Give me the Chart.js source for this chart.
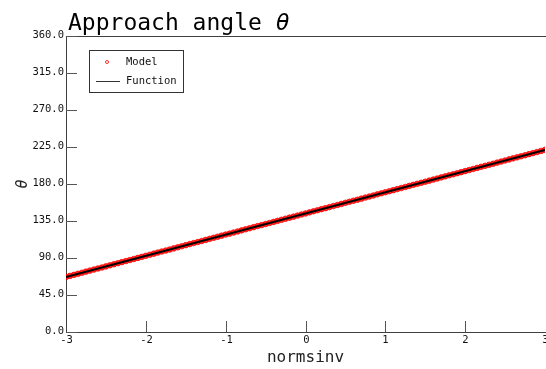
<!DOCTYPE html>
<html>
<head>
<meta charset="utf-8">
<script src="https://cdn.jsdelivr.net/npm/chart.js@4/dist/chart.umd.min.js"></script>
<style>
  html, body { margin: 0; padding: 0; background: #fff; }
  #wrap { width: 546px; height: 369px; }
</style>
</head>
<body>
<div id="wrap"><canvas id="chart" width="546" height="369"></canvas></div>
<script>
// data
const modelX = [
  -3.00, -2.95, -2.90, -2.85, -2.80, -2.75, -2.70, -2.65, -2.60, -2.55,
  -2.50, -2.45, -2.40, -2.35, -2.30, -2.25, -2.20, -2.15, -2.10, -2.05,
  -2.00, -1.95, -1.90, -1.85, -1.80, -1.75, -1.70, -1.65, -1.60, -1.55,
  -1.50, -1.45, -1.40, -1.35, -1.30, -1.25, -1.20, -1.15, -1.10, -1.05,
  -1.00, -0.95, -0.90, -0.85, -0.80, -0.75, -0.70, -0.65, -0.60, -0.55,
  -0.50, -0.45, -0.40, -0.35, -0.30, -0.25, -0.20, -0.15, -0.10, -0.05,
   0.00,  0.05,  0.10,  0.15,  0.20,  0.25,  0.30,  0.35,  0.40,  0.45,
   0.50,  0.55,  0.60,  0.65,  0.70,  0.75,  0.80,  0.85,  0.90,  0.95,
   1.00,  1.05,  1.10,  1.15,  1.20,  1.25,  1.30,  1.35,  1.40,  1.45,
   1.50,  1.55,  1.60,  1.65,  1.70,  1.75,  1.80,  1.85,  1.90,  1.95,
   2.00,  2.05,  2.10,  2.15,  2.20,  2.25,  2.30,  2.35,  2.40,  2.45,
   2.50,  2.55,  2.60,  2.65,  2.70,  2.75,  2.80,  2.85,  2.90,  2.95,
   3.00
];
const modelY = [
   67.0,  68.2,  69.5,  70.8,  72.1,  73.4,  74.7,  76.0,  77.3,  78.5,
   79.8,  81.1,  82.4,  83.7,  85.0,  86.3,  87.5,  88.8,  90.1,  91.4,
   92.7,  94.0,  95.3,  96.6,  97.9,  99.1, 100.4, 101.7, 103.0, 104.3,
  105.6, 106.9, 108.2, 109.4, 110.7, 112.0, 113.3, 114.6, 115.9, 117.2,
  118.5, 119.7, 121.0, 122.3, 123.6, 124.9, 126.2, 127.5, 128.8, 130.0,
  131.3, 132.6, 133.9, 135.2, 136.5, 137.8, 139.1, 140.3, 141.6, 142.9,
  144.2, 145.5, 146.8, 148.1, 149.4, 150.6, 151.9, 153.2, 154.5, 155.8,
  157.1, 158.4, 159.7, 160.9, 162.2, 163.5, 164.8, 166.1, 167.4, 168.7,
  170.0, 171.2, 172.5, 173.8, 175.1, 176.4, 177.7, 179.0, 180.3, 181.5,
  182.8, 184.1, 185.4, 186.7, 188.0, 189.3, 190.6, 191.8, 193.1, 194.4,
  195.7, 197.0, 198.3, 199.6, 200.9, 202.1, 203.4, 204.7, 206.0, 207.3,
  208.6, 209.9, 211.2, 212.4, 213.7, 215.0, 216.3, 217.6, 218.9, 220.2,
  221.5
];
const funcX = [-3, 3];
const funcY = [67.0, 221.5];

const xTicks = [-3, -2, -1, 0, 1, 2, 3];
const yTicks = [0, 45, 90, 135, 180, 225, 270, 315, 360];
const yTickLabels = ['0.0', '45.0', '90.0', '135.0', '180.0', '225.0', '270.0', '315.0', '360.0'];

const titleText = 'Approach angle ';
const titleSymbol = 'θ';
const xTitle = 'normsinv';
const yTitle = 'θ';

const mono = "'DejaVu Sans Mono', 'Liberation Mono', monospace";
const axisColor = '#404040';

function toPoints(xs, ys) {
    return xs.map(function(x, i) { return {x: x, y: ys[i]}; });
}

// ticks point inward, labels sit outside, legend in a box
const decorations = {
    id: 'decorations',
    afterDraw: function(chart) {
        const ctx = chart.ctx;
        const area = chart.chartArea;
        const xs = chart.scales.x;
        const ys = chart.scales.y;
        ctx.save();

        // top border
        ctx.strokeStyle = axisColor;
        ctx.lineWidth = 1;
        ctx.beginPath();
        ctx.moveTo(area.left, area.top + 0.5);
        ctx.lineTo(chart.width, area.top + 0.5);
        ctx.stroke();

        // y ticks
        ctx.strokeStyle = '#555';
        ctx.fillStyle = '#111';
        ctx.font = '10.5px ' + mono;
        ctx.textAlign = 'right';
        ctx.textBaseline = 'middle';
        yTicks.forEach(function(v, i) {
            const py = Math.round(ys.getPixelForValue(v)) + 0.5;
            ctx.beginPath();
            ctx.moveTo(area.left, py);
            ctx.lineTo(area.left + 11, py);
            ctx.stroke();
            ctx.fillText(yTickLabels[i], area.left - 2, py - 1);
        });

        // x ticks
        ctx.textAlign = 'center';
        ctx.textBaseline = 'top';
        xTicks.forEach(function(v) {
            const px = Math.round(xs.getPixelForValue(v)) + 0.5;
            if (v !== xTicks[0] && v !== xTicks[xTicks.length - 1]) {
                ctx.beginPath();
                ctx.moveTo(px, area.bottom);
                ctx.lineTo(px, area.bottom - 11);
                ctx.stroke();
            }
            ctx.fillText(String(v), px, area.bottom + 3);
        });

        // title
        ctx.fillStyle = '#000';
        ctx.textAlign = 'left';
        ctx.textBaseline = 'alphabetic';
        ctx.font = '23px ' + mono;
        ctx.fillText(titleText, area.left + 2, 30);
        const tw = ctx.measureText(titleText).width;
        ctx.font = 'italic 23px ' + mono;
        ctx.fillText(titleSymbol, area.left + 2 + tw, 30);

        // axis titles
        ctx.font = '16px ' + mono;
        ctx.fillStyle = '#222';
        ctx.textAlign = 'center';
        ctx.fillText(xTitle, (area.left + area.right) / 2, 362);
        ctx.save();
        ctx.translate(23, (area.top + area.bottom) / 2);
        ctx.rotate(-Math.PI / 2);
        ctx.font = 'italic 15px ' + mono;
        ctx.textBaseline = 'middle';
        ctx.fillText(yTitle, 0, 0);
        ctx.restore();

        // legend
        const lx = 89, ly = 50, lw = 94, lh = 42;
        ctx.fillStyle = '#fff';
        ctx.fillRect(lx, ly, lw, lh);
        ctx.strokeStyle = '#333';
        ctx.lineWidth = 1;
        ctx.strokeRect(lx + 0.5, ly + 0.5, lw, lh);
        ctx.font = '10.5px ' + mono;
        ctx.textAlign = 'left';
        ctx.textBaseline = 'middle';
        chart.data.datasets.forEach(function(ds, i) {
            const ey = ly + 12 + i * 19;
            if (ds.showLine) {
                ctx.strokeStyle = '#333';
                ctx.beginPath();
                ctx.moveTo(lx + 7, ey + 0.5);
                ctx.lineTo(lx + 31, ey + 0.5);
                ctx.stroke();
            } else {
                ctx.strokeStyle = 'rgba(255,0,0,0.8)';
                ctx.beginPath();
                ctx.arc(lx + 18, ey, 1.5, 0, Math.PI * 2);
                ctx.stroke();
            }
            ctx.fillStyle = '#111';
            ctx.fillText(ds.label, lx + 37, ey);
        });
        ctx.restore();
    }
};

const ctx = document.getElementById('chart');
new Chart(ctx, {
    type: 'scatter',
    data: {
        datasets: [
            {
                label: 'Model',
                data: toPoints(modelX, modelY),
                showLine: false,
                pointRadius: 2.8,
                pointBorderWidth: 1,
                pointBackgroundColor: 'rgba(255,0,0,0.85)',
                pointBorderColor: 'rgba(255,0,0,0.7)',
                order: 1
            },
            {
                label: 'Function',
                data: toPoints(funcX, funcY),
                showLine: true,
                borderColor: '#000',
                borderWidth: 2,
                pointRadius: 0,
                order: 0
            }
        ]
    },
    options: {
        responsive: false,
        animation: false,
        layout: { autoPadding: false, padding: { top: 36, right: 1, left: 0, bottom: 0 } },
        plugins: {
            legend: { display: false },
            title: { display: false },
            tooltip: { enabled: false }
        },
        scales: {
            x: {
                type: 'linear',
                min: -3,
                max: 3,
                ticks: { display: false },
                grid: { display: false, drawTicks: false },
                border: { display: true, color: axisColor, width: 1 },
                afterFit: function(scale) {
                    scale.height = 37;
                    scale.paddingLeft = 0;
                    scale.paddingRight = 0;
                }
            },
            y: {
                min: 0,
                max: 360,
                ticks: { display: false },
                grid: { display: false, drawTicks: false },
                border: { display: true, color: axisColor, width: 1 },
                afterFit: function(scale) {
                    scale.width = 66;
                    scale.paddingTop = 0;
                    scale.paddingBottom = 0;
                }
            }
        }
    },
    plugins: [decorations]
});
</script>
</body>
</html>
